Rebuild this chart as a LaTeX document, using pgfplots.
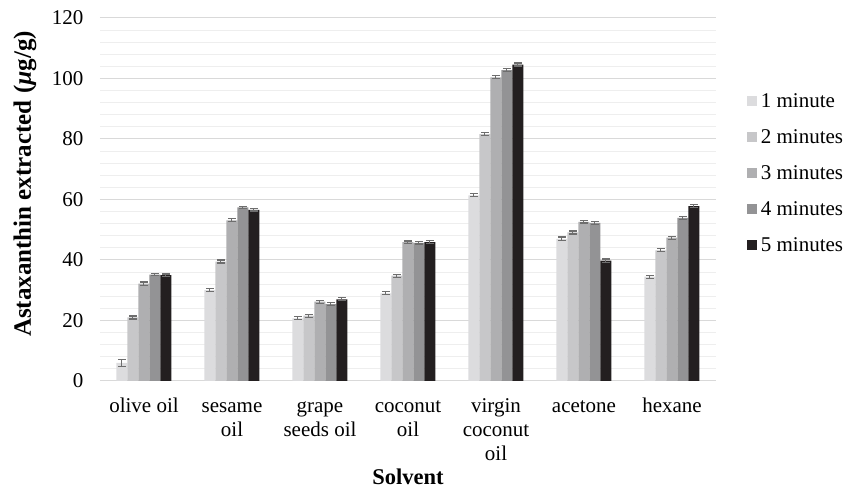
\documentclass[border=0pt]{standalone}
\usepackage{fontspec}
\setmainfont{Liberation Serif}
\usepackage{pgfplots}
\usepackage{pgfplotstable}
\pgfplotsset{compat=1.18}

\definecolor{mA}{HTML}{DCDCDE}
\definecolor{mB}{HTML}{C7C7C9}
\definecolor{mC}{HTML}{AFAFB1}
\definecolor{mD}{HTML}{939395}
\definecolor{mE}{HTML}{231F20}
\definecolor{errc}{HTML}{6E6E6E}
\definecolor{gmaj}{HTML}{D9D9D9}
\definecolor{gmin}{HTML}{EEEEEE}

% x m1..m5 (mean), e1..e5 (error)
\pgfplotstableread{
x  m1   m2   m3    m4    m5    e1  e2  e3  e4  e5
0  6.0  21.0 32.2  35.2  35.0  1.2 0.5 0.5 0.4 0.4
1  30.0 39.5 53.1  57.4  56.6  0.5 0.5 0.5 0.4 0.4
2  20.7 21.6 26.2  25.4  27.0  0.5 0.5 0.5 0.5 0.5
3  29.0 34.8 45.9  45.7  45.9  0.5 0.5 0.4 0.4 0.5
4  61.4 81.6 100.4 102.8 104.6 0.5 0.5 0.5 0.4 0.5
5  47.0 49.1 52.6  52.3  39.8  0.6 0.5 0.4 0.5 0.5
6  34.5 43.2 47.4  53.9  57.8  0.5 0.5 0.5 0.4 0.5
}\data

\begin{document}
\begin{tikzpicture}
\path[use as bounding box] (-100pt,-114pt) rectangle (749pt,381pt);
\begin{axis}[
at={(0pt,0pt)}, anchor=south west,
scale only axis,
width=616pt, height=363pt,
ybar=0pt, bar width=11pt,
xmin=-0.5, xmax=6.5,
ymin=0, ymax=120,
ytick={0,20,...,120},
minor y tick num=4,
xtick={0,...,6},
xticklabels={\strut olive oil,{\strut sesame\\oil},{\strut grape\\seeds oil},{\strut coconut\\oil},{\strut virgin\\coconut\\oil},\strut acetone,\strut hexane},
major tick length=0pt, minor tick length=0pt,
axis line style={draw=none},
ymajorgrids, yminorgrids,
major grid style={gmaj, line width=1pt},
minor grid style={gmin, line width=0.8pt},
/pgf/number format/assume math mode=true,
tick label style={font=\fontsize{21}{24}\selectfont},
xticklabel style={align=center, yshift=-11pt},
yticklabel style={xshift=-13pt},
xlabel={\textbf{Solvent}},
ylabel={\textbf{Astaxanthin extracted (\textit{µ}g/g)}},
xlabel style={font=\fontsize{22.5}{26}\selectfont, at={(axis description cs:0.5,-0.264)}, anchor=center},
ylabel style={font=\fontsize{25}{28}\selectfont, at={(axis description cs:-0.122,0.543)}, anchor=center},
legend style={at={(axis description cs:1.045,0.573)}, anchor=west, draw=none, fill=none,
  font=\fontsize{21}{24}\selectfont, row sep=16.5pt, legend cell align=left,
  /tikz/every odd column/.append style={column sep=2pt}},
legend image code/.code={\fill[#1] (0pt,-5pt) rectangle (10pt,5pt);},
error bars/error bar style={errc, line width=1pt},
error bars/error mark options={errc, rotate=90, mark size=4pt, line width=1.2pt},
]
\addplot[fill=mA, draw=none, error bars/.cd, y dir=both, y explicit] table[x=x, y=m1, y error=e1] {\data};
\addplot[fill=mB, draw=none, error bars/.cd, y dir=both, y explicit] table[x=x, y=m2, y error=e2] {\data};
\addplot[fill=mC, draw=none, error bars/.cd, y dir=both, y explicit] table[x=x, y=m3, y error=e3] {\data};
\addplot[fill=mD, draw=none, error bars/.cd, y dir=both, y explicit] table[x=x, y=m4, y error=e4] {\data};
\addplot[fill=mE, draw=none, error bars/.cd, y dir=both, y explicit] table[x=x, y=m5, y error=e5] {\data};
\legend{1 minute,2 minutes,3 minutes,4 minutes,5 minutes}
\end{axis}
\end{tikzpicture}
\end{document}
